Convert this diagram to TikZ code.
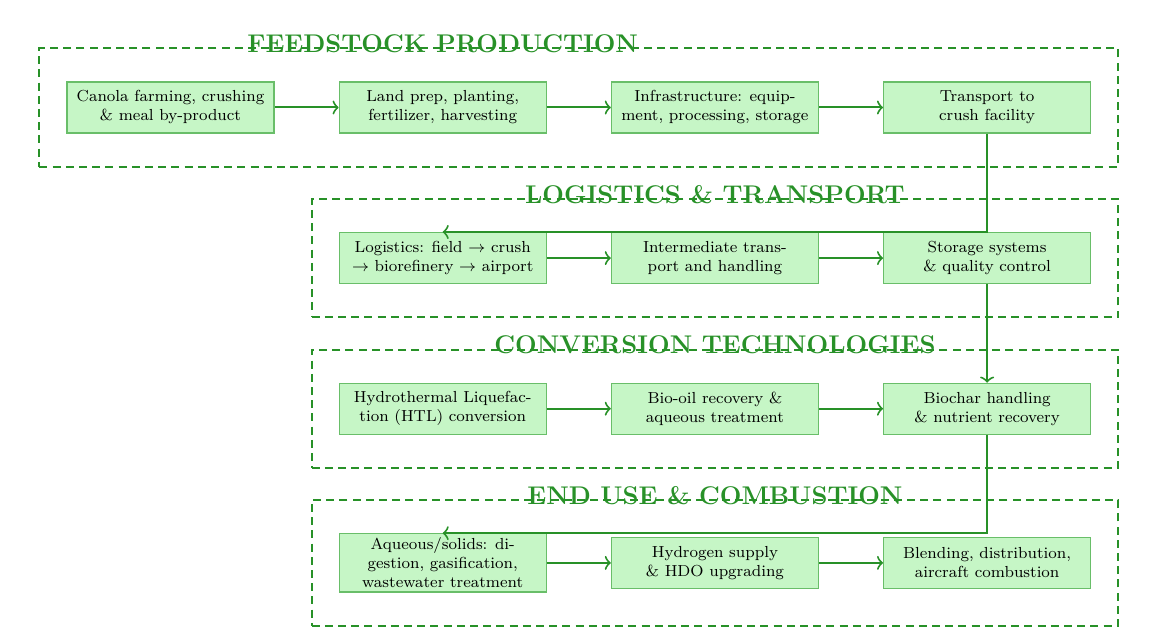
\documentclass[tikz,border=0pt]{standalone}
\usepackage{amsmath}
\usepackage{amssymb}
\usepackage{tikz}
\usetikzlibrary{arrows,arrows.meta,positioning,fit}
\definecolor{flowgreen}{RGB}{40,145,40}
\definecolor{boxfill}{RGB}{198,246,198}
\definecolor{boxline}{RGB}{105,190,105}

\begin{document}
\begin{tikzpicture}[x=0.5pt, y=-0.5pt, node distance=49.2pt and 32pt]
\tikzset{stage/.style={draw=boxline, fill=boxfill, semithick, minimum width=103.5pt, minimum height=25.5pt, align=center, font=\footnotesize, inner sep=2pt}}
\tikzset{group/.style={draw=flowgreen, line width=1pt, dash pattern=on 4pt off 2.6pt, inner xsep=13.5pt, inner ysep=16.5pt}}
\tikzset{grouptitle/.style={text=flowgreen, font=\fontsize{12.8}{15}\selectfont\bfseries, inner sep=0pt, anchor=base, yshift=-2.6pt}}
\tikzset{flow/.style={draw=flowgreen, line width=1pt, -{Classical TikZ Rightarrow[length=3pt,width=7pt]}}}
\useasboundingbox (0,0) rectangle (1176,636);

% feedstock row
\node[stage] (canola) at (170.5,107.5) {Canola farming, crushing\\ \& meal by-product};
\node[stage, right=of canola] (land) {Land prep, planting,\\ fertilizer, harvesting};
\node[stage, right=of land] (infra) {Infrastructure: equip-\\ment, processing, storage};
\node[stage, right=of infra] (trans) {Transport to\\ crush facility};

% logistics row
\node[stage, below=of land] (logis) {Logistics: field $\rightarrow$ crush\\ $\rightarrow$ biorefinery $\rightarrow$ airport};
\node[stage, right=of logis] (inter) {Intermediate trans-\\port and handling};
\node[stage, right=of inter] (store) {Storage systems\\ \& quality control};

% conversion row
\node[stage, below=of logis] (htl) {Hydrothermal Liquefac-\\tion (HTL) conversion};
\node[stage, right=of htl] (biooil) {Bio-oil recovery \&\\ aqueous treatment};
\node[stage, right=of biooil] (biochar) {Biochar handling\\ \& nutrient recovery};

% end use row
\node[stage, below=of htl] (aqueous) {Aqueous/solids: di-\\gestion, gasification,\\ wastewater treatment};
\node[stage, right=of aqueous] (hydro) {Hydrogen supply\\ \& HDO upgrading};
\node[stage, right=of hydro] (blend) {Blending, distribution,\\ aircraft combustion};

% groups
\node[group, fit=(canola) (trans)] (feedgrp) {};
\node[group, fit=(logis) (store)] (logisgrp) {};
\node[group, fit=(htl) (biochar)] (convgrp) {};
\node[group, fit=(aqueous) (blend)] (endgrp) {};
\node[grouptitle] (feedttl) at (feedgrp.north -| land) {FEEDSTOCK PRODUCTION};
\node[grouptitle] (logisttl) at (logisgrp.north) {LOGISTICS \& TRANSPORT};
\node[grouptitle] (convttl) at (convgrp.north) {CONVERSION TECHNOLOGIES};
\node[grouptitle] (endttl) at (endgrp.north) {END USE \& COMBUSTION};

% flows
\draw[flow] (canola) -- (land);
\draw[flow] (land) -- (infra);
\draw[flow] (infra) -- (trans);
\draw[flow] (trans.south) |- (logis.north);
\draw[flow] (logis) -- (inter);
\draw[flow] (inter) -- (store);
\draw[flow] (store.south) -- (biochar.north);
\draw[flow] (htl) -- (biooil);
\draw[flow] (biooil) -- (biochar);
\draw[flow] (biochar.south) |- (aqueous.north);
\draw[flow] (aqueous) -- (hydro);
\draw[flow] (hydro) -- (blend);

\end{tikzpicture}
\end{document}
